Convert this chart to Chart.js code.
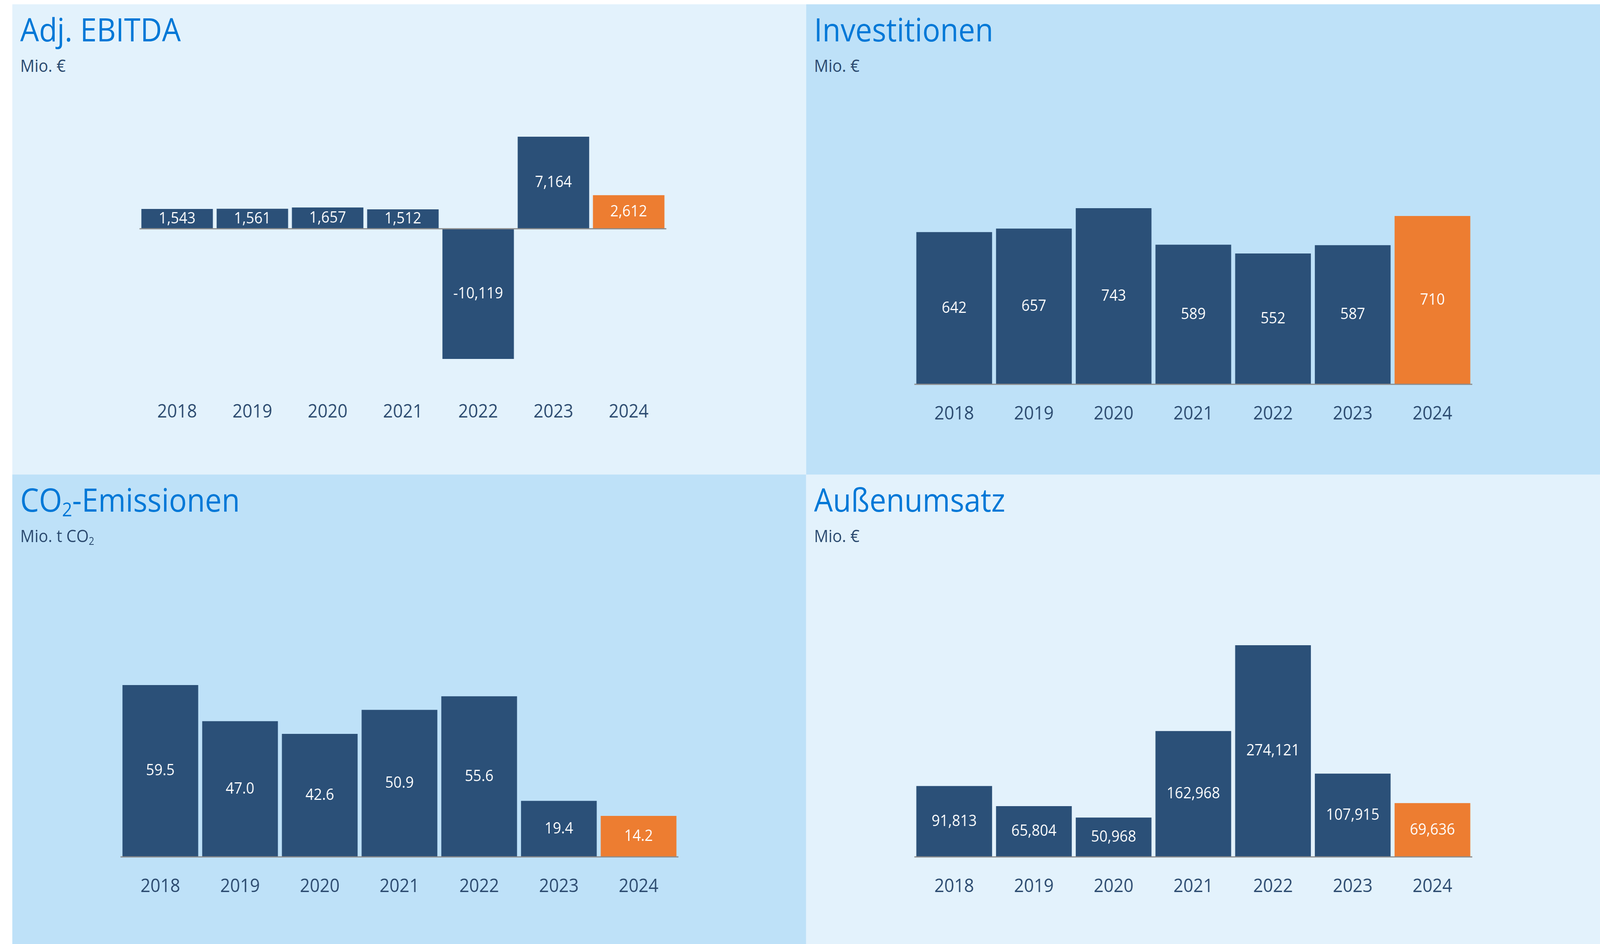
<!DOCTYPE html>
<html><head><meta charset="utf-8">
<script src="https://cdn.jsdelivr.net/npm/chart.js@4"></script>
<style>
html,body{margin:0;padding:0;overflow:hidden;background:#fff;}
#w{position:absolute;left:0;top:0;width:4422px;height:2417px;transform-origin:0 0;font-family:"Open Sans",sans-serif;}
.p{position:absolute;}
.t{position:absolute;left:22px;top:22px;color:#0078D7;font-size:82px;line-height:1;}
.s{position:absolute;left:22px;top:134px;color:#2B4A6F;font-size:44px;line-height:1;}
sub{font-size:0.6em;vertical-align:-0.25em;line-height:0;}
canvas{position:absolute;}
</style></head><body>
<div id="w">
<div class="p" style="left:34px;top:11px;width:2194px;height:1204px;background:#E3F2FC"><div class="t">Adj. EBITDA</div><div class="s">Mio. €</div></div>
<div class="p" style="left:2228px;top:11px;width:2194px;height:1204px;background:#BEE1F8"><div class="t">Investitionen</div><div class="s">Mio. €</div></div>
<div class="p" style="left:34px;top:1215px;width:2194px;height:1202px;background:#BEE1F8"><div class="t">CO<sub>2</sub>-Emissionen</div><div class="s">Mio. t CO<sub>2</sub></div></div>
<div class="p" style="left:2228px;top:1215px;width:2194px;height:1202px;background:#E3F2FC"><div class="t">Außenumsatz</div><div class="s">Mio. €</div></div>
<canvas id="c1"></canvas><canvas id="c2"></canvas><canvas id="c3"></canvas><canvas id="c4"></canvas>
</div>
<script>
const years = ["2018","2019","2020","2021","2022","2023","2024"];
const ebitda = [1543,1561,1657,1512,-10119,7164,2612];
const invest = [642,657,743,589,552,587,710];
const co2 = [59.5,47.0,42.6,50.9,55.6,19.4,14.2];
const umsatz = [91813,65804,50968,162968,274121,107915,69636];
const NAVY="#2B5078", ORANGE="#ED7D31";
const W=document.getElementById("w");
W.style.transform="scale("+(window.innerWidth/4422)+","+(window.innerHeight/2417)+")";
function make(id, data, dec, box, yMin, yMax, axisH, pad){
  const c=document.getElementById(id);
  c.style.left=box[0]+"px"; c.style.top=box[1]+"px";
  c.width=box[2]; c.height=box[3]+axisH;
  c.style.width=box[2]+"px"; c.style.height=(box[3]+axisH)+"px";
  new Chart(c,{type:"bar",
    data:{labels:years,datasets:[{data:data,backgroundColor:data.map((v,i)=>i===data.length-1?ORANGE:NAVY),barPercentage:0.95,categoryPercentage:1}]},
    options:{responsive:false,animation:false,devicePixelRatio:1,
      layout:{padding:0},
      plugins:{legend:{display:false},tooltip:{enabled:false}},
      scales:{
        x:{grid:{display:false},border:{display:false},
           ticks:{color:"#2B4A6F",font:{size:48,family:"Open Sans"},padding:pad},
           afterFit:s=>{s.height=axisH;}},
        y:{display:false,min:yMin,max:yMax}}},
    plugins:[{id:"lbl",afterDatasetsDraw(ch){
      const ctx=ch.ctx, y0=ch.scales.y.getPixelForValue(0);
      ctx.save();ctx.strokeStyle="#8C8C8C";ctx.lineWidth=3;
      ctx.beginPath();ctx.moveTo(ch.chartArea.left,y0);ctx.lineTo(ch.chartArea.right,y0);ctx.stroke();
      ctx.fillStyle="#fff";ctx.font="40px 'Open Sans'";ctx.textAlign="center";ctx.textBaseline="middle";
      ch.getDatasetMeta(0).data.forEach((b,i)=>{
        const v=data[i];
        const txt=v.toLocaleString("en-US",{minimumFractionDigits:dec,maximumFractionDigits:dec});
        ctx.fillText(txt,b.x,(b.y+b.base)/2);
      });
      ctx.restore();}}]
  });
}
make("c1",ebitda,0,[338,350,1551,569],-10119,7164,133+24,100);
make("c2",invest,0,[2527,533,1542,451],0,743,71+24,40);
make("c3",co2,1,[333,1754,1542,440],0,59.5,70+24,40);
make("c4",umsatz,0,[2527,1652,1542,542],0,274121,70+24,40);
</script></body></html>
